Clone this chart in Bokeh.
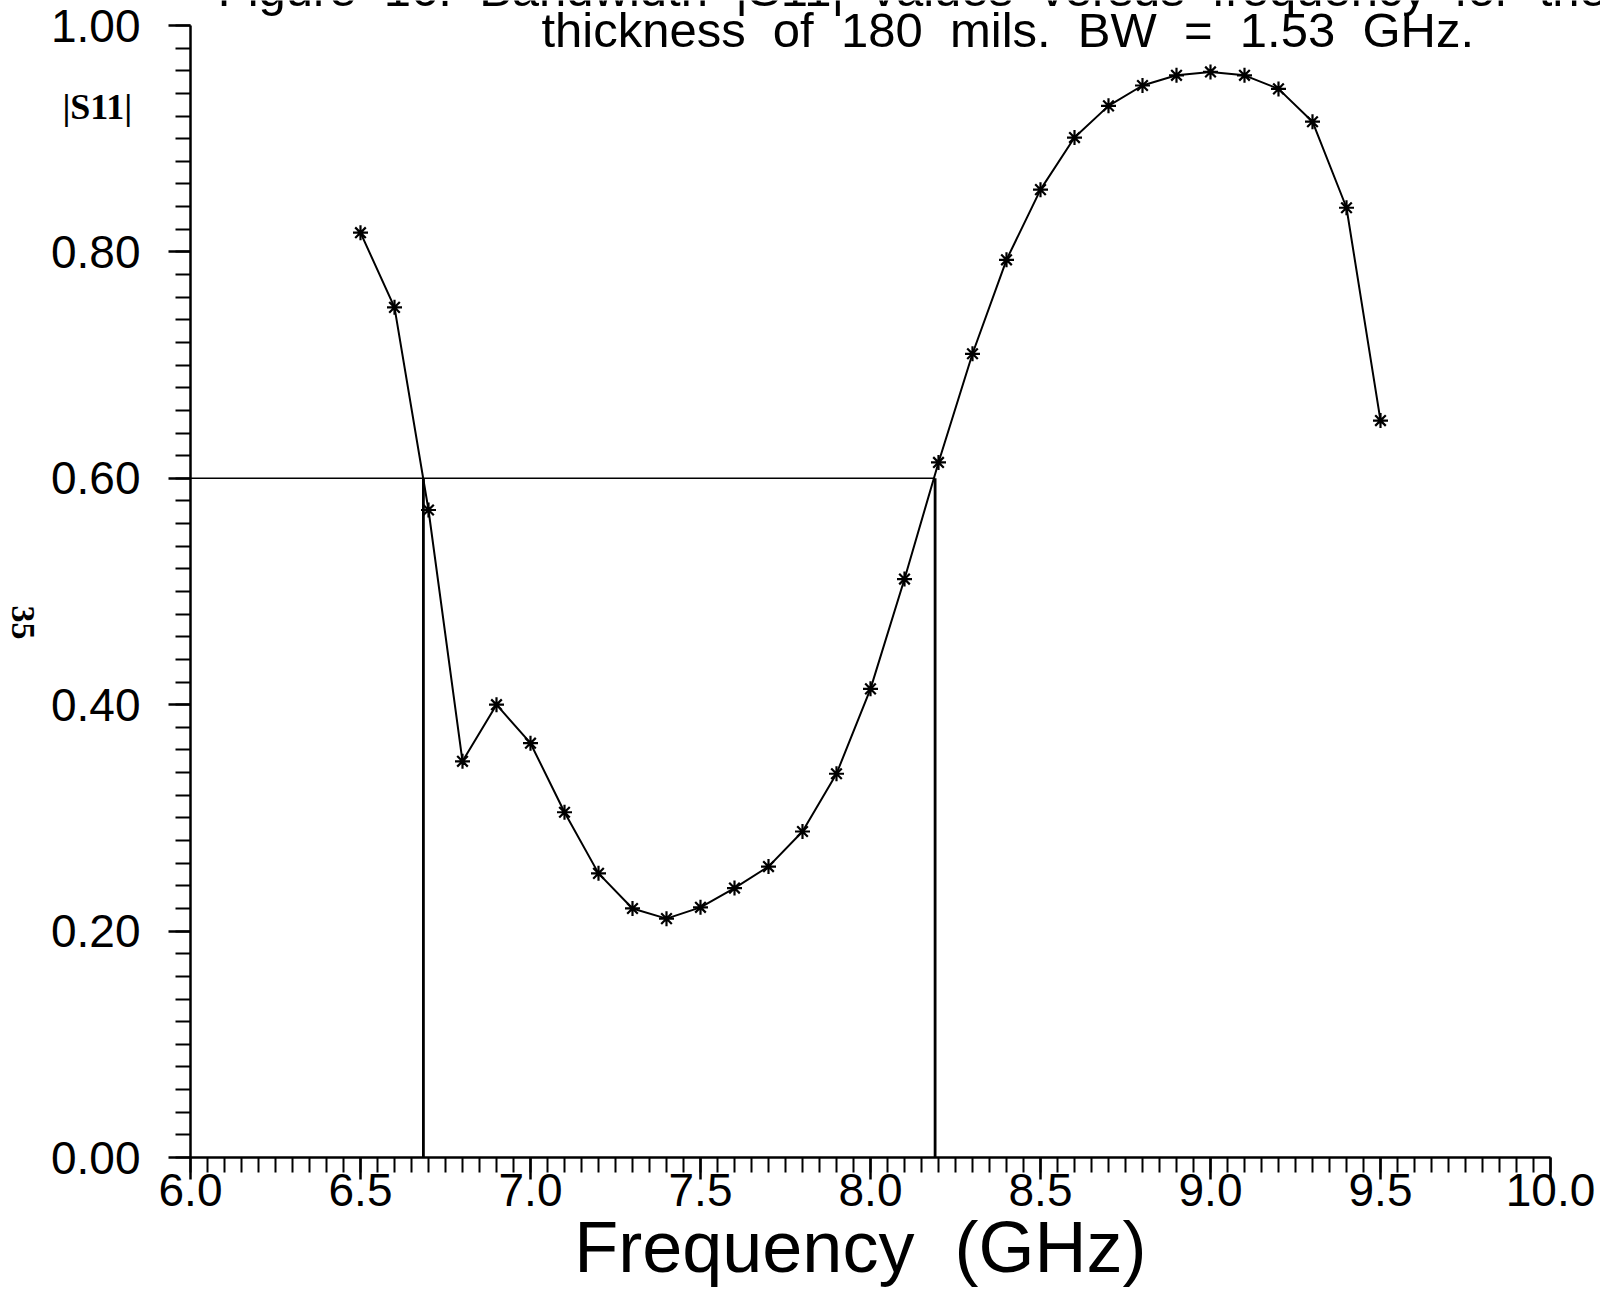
import math
from bokeh.plotting import figure
from bokeh.models import FixedTicker, Range1d, Label
from bokeh.embed import file_html
from bokeh.resources import INLINE

# ---- data ----
freq_ghz = [6.5, 6.6, 6.7, 6.8, 6.9, 7.0, 7.1, 7.2, 7.3, 7.4, 7.5, 7.6, 7.7, 7.8,
            7.9, 8.0, 8.1, 8.2, 8.3, 8.4, 8.5, 8.6, 8.7, 8.8, 8.9, 9.0, 9.1, 9.2,
            9.3, 9.4, 9.5]
s11_mag = [0.817, 0.751, 0.572, 0.350, 0.400, 0.366, 0.305, 0.251, 0.220, 0.211,
           0.221, 0.238, 0.257, 0.288, 0.339, 0.414, 0.511, 0.614, 0.710, 0.793,
           0.855, 0.901, 0.929, 0.947, 0.956, 0.959, 0.956, 0.944, 0.915, 0.839,
           0.651]
bw_threshold = 0.60
bw_edges = [6.685, 8.19]

x_min, x_max = 6.0, 10.0
y_min, y_max = 0.0, 1.0
x_major = [6.0, 6.5, 7.0, 7.5, 8.0, 8.5, 9.0, 9.5, 10.0]
x_labels = ["6.0", "6.5", "7.0", "7.5", "8.0", "8.5", "9.0", "9.5", "10.0"]
y_major = [0.0, 0.2, 0.4, 0.6, 0.8, 1.0]
y_labels = ["0.00", "0.20", "0.40", "0.60", "0.80", "1.00"]
x_minor = [round(6.0 + 0.05 * i, 2) for i in range(81)]
y_minor = [round(0.02 * i, 2) for i in range(51)]

NB = "\u00a0\u00a0"
title_top = NB.join(["Figure", "16.", "Bandwidth", "|S11|", "values", "versus",
                     "frequency", "for", "the", "substrate"])
title_line = NB.join(["thickness", "of", "180", "mils.", "BW", "=", "1.53", "GHz."])
x_title = "Frequency" + NB + "(GHz)"
y_title = "|S11|"
page_no = "35"

FONT = "Liberation Sans"

# the frame covers the whole canvas; axes are pinned at x=6, y=0
W, H = 1600, 1296
left_px, right_px, top_px, bottom_px = 190, 1550, 25, 1157
xs = (x_max - x_min) / (right_px - left_px)
ys = (y_max - y_min) / (bottom_px - top_px)
p = figure(width=W, height=H,
           x_range=Range1d(x_min - left_px * xs, x_max + (W - right_px) * xs),
           y_range=Range1d(y_min - (H - bottom_px) * ys, y_max + top_px * ys),
           output_backend="svg", toolbar_location=None,
           min_border_left=0, min_border_right=0, min_border_top=0, min_border_bottom=0)
p.outline_line_color = None
p.xgrid.visible = False
p.ygrid.visible = False
p.background_fill_color = "white"
p.border_fill_color = "white"

for ax in (p.xaxis[0], p.yaxis[0]):
    ax.axis_line_width = 2.5
    ax.axis_line_color = "black"
    ax.major_tick_line_width = 2.5
    ax.minor_tick_line_width = 2
    ax.major_tick_line_color = "black"
    ax.minor_tick_line_color = "black"
    ax.major_tick_out = 22
    ax.major_tick_in = 0
    ax.minor_tick_out = 15
    ax.minor_tick_in = 0
    ax.major_label_text_font = FONT
    ax.major_label_text_color = "black"

p.xaxis[0].fixed_location = y_min
p.xaxis[0].bounds = (x_min, x_max)
p.xaxis[0].ticker = FixedTicker(ticks=x_major, minor_ticks=x_minor)
p.xaxis[0].major_label_overrides = {v: s for v, s in zip(x_major, x_labels)}
p.xaxis[0].major_label_text_font_size = "46px"
p.xaxis[0].major_label_standoff = -6

p.yaxis[0].fixed_location = x_min
p.yaxis[0].bounds = (y_min, y_max)
p.yaxis[0].ticker = FixedTicker(ticks=y_major, minor_ticks=y_minor)
p.yaxis[0].major_label_overrides = {v: s for v, s in zip(y_major, y_labels)}
p.yaxis[0].major_label_text_font_size = "46px"
p.yaxis[0].major_label_standoff = 28

# bandwidth markers
p.segment(x0=[x_min], y0=[bw_threshold], x1=[bw_edges[1]], y1=[bw_threshold],
          line_color="black", line_width=1.6)
p.segment(x0=bw_edges, y0=[y_min, y_min], x1=bw_edges, y1=[bw_threshold, bw_threshold],
          line_color="black", line_width=2.8)

# curve
p.line(freq_ghz, s11_mag, line_color="black", line_width=2)
p.scatter(freq_ghz, s11_mag, marker="asterisk", size=15, line_color="black", line_width=2.2)

# texts
p.add_layout(Label(x=6.08, y=1.0325, text=title_top, text_font=FONT, text_font_size="49px",
                   text_align="left", text_baseline="alphabetic", text_color="black"))
p.add_layout(Label(x=7.032, y=0.996, text=title_line, text_font=FONT, text_font_size="49px",
                   text_align="left", text_baseline="alphabetic", text_color="black"))
p.add_layout(Label(x=7.97, y=-0.079, text=x_title, text_font=FONT, text_font_size="72px",
                   text_align="center", text_baseline="alphabetic", text_color="black"))
p.add_layout(Label(x=5.726, y=0.9276, text=y_title, text_font="Liberation Serif",
                   text_font_style="bold", text_font_size="36px",
                   text_align="center", text_baseline="middle", text_color="black"))
p.add_layout(Label(x=5.507, y=0.4726, text=page_no, text_font="Liberation Serif",
                   text_font_style="bold", text_font_size="34px", angle=-math.pi / 2,
                   text_align="center", text_baseline="middle", text_color="black"))

open("out.html", "w").write(file_html(p, INLINE))
